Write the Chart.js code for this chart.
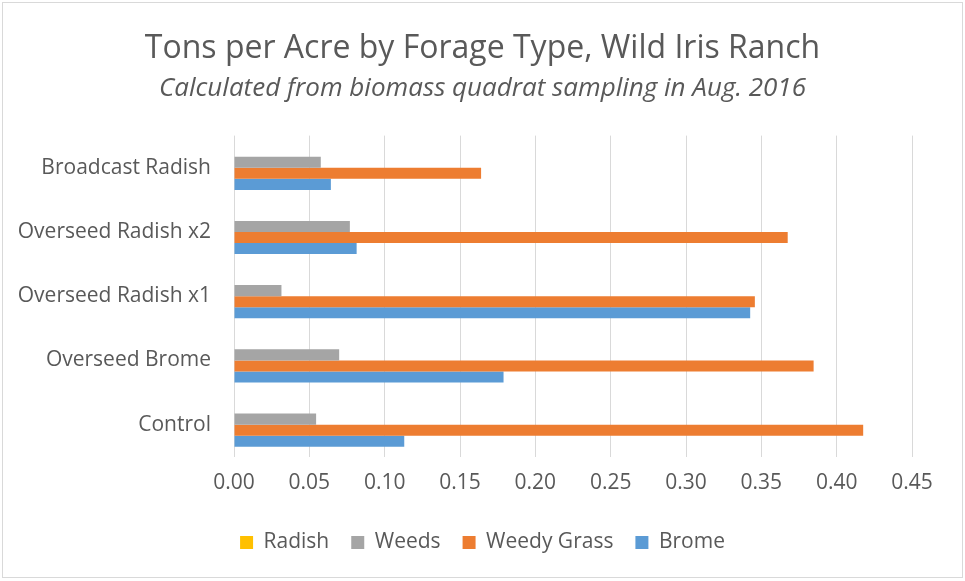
<!DOCTYPE html>
<html>
<head>
<meta charset="utf-8">
<script src="https://cdn.jsdelivr.net/npm/chart.js@4"></script>
<style>
  html, body { margin: 0; padding: 0; background: #fff; }
  #wrap { position: relative; width: 965px; height: 581px; }
  #frame { position: absolute; left: 2px; top: 2px; width: 959px; height: 574px;
           border: 1.5px solid #d9d9d9; pointer-events: none; }
</style>
</head>
<body>
<div id="wrap">
  <canvas id="chart" width="965" height="581"></canvas>
  <div id="frame"></div>
</div>
<script>
const categories = ["Broadcast Radish", "Overseed Radish x2", "Overseed Radish x1", "Overseed Brome", "Control"];
const radish = [0, 0, 0, 0, 0];
const weeds = [0.0576, 0.0769, 0.0315, 0.0698, 0.0545];
const weedyGrass = [0.164, 0.3675, 0.3457, 0.3847, 0.4176];
const brome = [0.0643, 0.0814, 0.3426, 0.1789, 0.113];
const xTicks = [0, 0.05, 0.1, 0.15, 0.2, 0.25, 0.3, 0.35, 0.4, 0.45];

const textColor = "#595959";
const fontFamily = "'Open Sans', Lato, sans-serif";

const ctx = document.getElementById("chart");
new Chart(ctx, {
  type: "bar",
  data: {
    labels: categories,
    datasets: [
      { label: "Radish", data: radish, backgroundColor: "#FFC000" },
      { label: "Weeds", data: weeds, backgroundColor: "#A5A5A5" },
      { label: "Weedy Grass", data: weedyGrass, backgroundColor: "#ED7D31" },
      { label: "Brome", data: brome, backgroundColor: "#5B9BD5" },
    ],
  },
  options: {
    indexAxis: "y",
    responsive: false,
    animation: false,
    categoryPercentage: 0.69,
    barPercentage: 1.0,
    layout: { padding: { left: 0, right: 0, top: 0, bottom: 18 } },
    scales: {
      x: {
        min: 0,
        max: 0.45,
        afterBuildTicks: (scale) => {
          scale.ticks = xTicks.map((v) => ({ value: v }));
        },
        ticks: {
          color: textColor,
          font: { family: fontFamily, size: 21 },
          padding: 14,
          callback: (v) => Number(v).toFixed(2),
        },
        grid: { color: "#d9d9d9", lineWidth: 1, drawTicks: false },
        border: { display: false },
      },
      y: {
        afterFit: (scale) => {
          scale.width = 234;
        },
        ticks: {
          color: textColor,
          font: { family: fontFamily, size: 21 },
          padding: 23,
        },
        grid: { display: false, drawTicks: false },
        border: { display: false },
      },
      // empty right-hand spacer so the title and legend stay centred on the page
      spacer: {
        type: "linear",
        axis: "y",
        position: "right",
        ticks: { display: false },
        grid: { display: false, drawTicks: false },
        border: { display: false },
        afterFit: (scale) => {
          scale.width = 53;
        },
      },
    },
    plugins: {
      title: {
        display: true,
        text: "Tons per Acre by Forage Type, Wild Iris Ranch",
        color: textColor,
        font: { family: fontFamily, size: 32, weight: "normal" },
        padding: { top: 30, bottom: 5 },
      },
      subtitle: {
        display: true,
        text: "Calculated from biomass quadrat sampling in Aug. 2016",
        color: textColor,
        font: { family: fontFamily, size: 26, style: "italic" },
        padding: { top: 0, bottom: 31 },
      },
      legend: {
        position: "bottom",
        labels: {
          color: textColor,
          font: { family: fontFamily, size: 21 },
          boxWidth: 13,
          boxHeight: 13,
          padding: 22,
        },
      },
      tooltip: { enabled: false },
    },
  },
});
</script>
</body>
</html>
